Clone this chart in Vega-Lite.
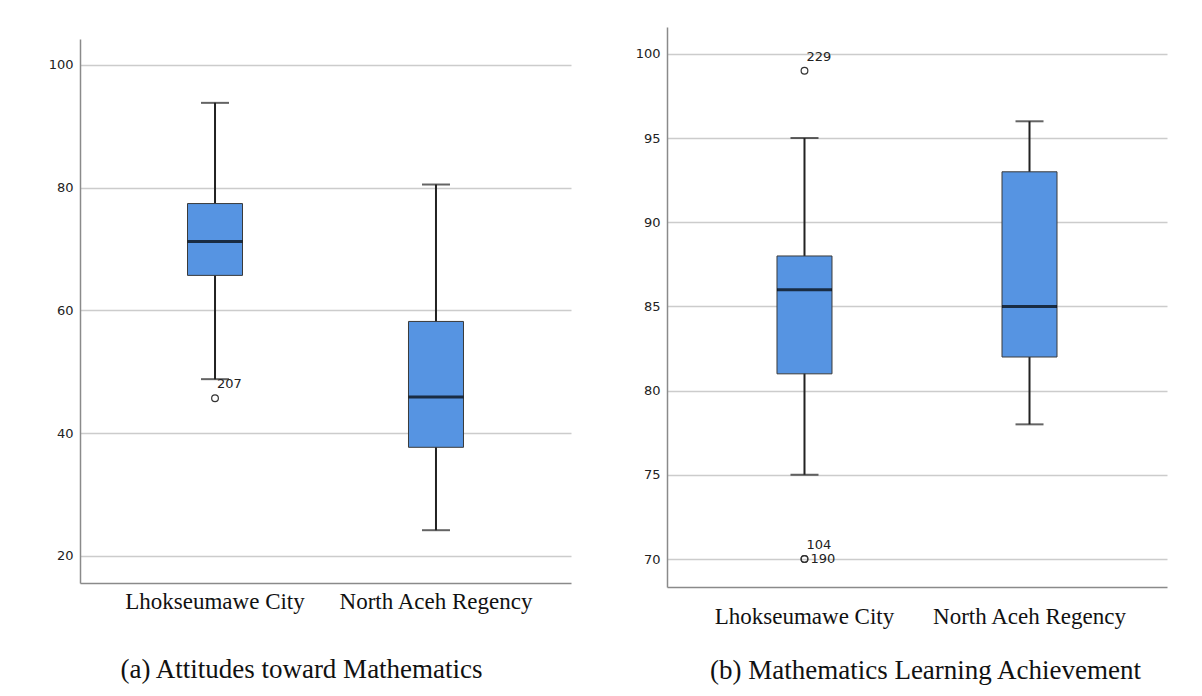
{
  "$schema": "https://vega.github.io/schema/vega-lite/v6.json",
  "background": "white",
  "padding": {"left": 48, "top": 21, "right": 5, "bottom": 5},
  "spacing": 64,
  "datasets": {
    "att": [
      {"area": "Lhokseumawe City", "lower": 48.8, "q1": 65.7, "median": 71.2, "q3": 77.4, "upper": 93.8},
      {"area": "North Aceh Regency", "lower": 24.2, "q1": 37.7, "median": 45.9, "q3": 58.2, "upper": 80.5}
    ],
    "att_out": [
      {"area": "Lhokseumawe City", "value": 45.7, "case": "207", "order": 1}
    ],
    "ach": [
      {"area": "Lhokseumawe City", "lower": 75, "q1": 81, "median": 86, "q3": 88, "upper": 95},
      {"area": "North Aceh Regency", "lower": 78, "q1": 82, "median": 85, "q3": 93, "upper": 96}
    ],
    "ach_out": [
      {"area": "Lhokseumawe City", "value": 99, "case": "229", "order": 1},
      {"area": "Lhokseumawe City", "value": 70, "case": "104", "order": 1},
      {"area": "Lhokseumawe City", "value": 70, "case": "190", "order": 2}
    ],
    "spacer": [{}]
  },
  "config": {
    "view": {"stroke": null},
    "axisY": {
      "grid": true, "gridColor": "#cccccc", "gridWidth": 1.5,
      "domainColor": "#8a8a8a", "domainWidth": 1.5,
      "ticks": false, "labelFont": "DejaVu Sans", "labelFontSize": 13,
      "labelColor": "#222", "labelPadding": 7
    },
    "axisX": {
      "grid": false, "ticks": false, "domainColor": "#8a8a8a", "domainWidth": 1.5,
      "labelAngle": 0, "labelFont": "Liberation Serif", "labelFontSize": 23, "labelLimit": 0,
      "labelColor": "#111", "titleFont": "Liberation Serif", "titleFontSize": 27, "titleLimit": 0,
      "titleFontWeight": "normal", "titleColor": "#111", "titleBaseline": "middle", "titleAlign": "center"
    }
  },
  "hconcat": [
    {
      "spacing": 6,
      "vconcat": [
        {
          "width": 491,
          "height": 1,
          "data": {"name": "spacer"},
          "mark": {"type": "text", "text": ""},
          "encoding": {}
        },
        {
          "width": 491,
          "height": 544,
          "encoding": {
            "x": {
              "field": "area", "type": "nominal", "sort": null,
              "scale": {"paddingInner": 0.2, "paddingOuter": 0.211},
              "axis": {"title": "(a) Attitudes toward Mathematics", "labelPadding": 7, "titleX": 221, "titleY": 86}
            }
          },
          "layer": [
            {
              "data": {"name": "att"},
              "mark": {"type": "rule", "color": "#222", "strokeWidth": 2},
              "encoding": {
                "y": {"field": "lower", "type": "quantitative", "scale": {"domain": [15.6, 104.2], "nice": false, "zero": false}, "axis": {"values": [20, 40, 60, 80, 100], "title": null}},
                "y2": {"field": "upper"}
              }
            },
            {
              "data": {"name": "att"},
              "mark": {"type": "tick", "color": "#222", "size": 28, "thickness": 2},
              "encoding": {
                "y": {"field": "lower", "type": "quantitative", "scale": {"domain": [15.6, 104.2], "nice": false, "zero": false}, "axis": {"values": [20, 40, 60, 80, 100], "title": null}}
              }
            },
            {
              "data": {"name": "att"},
              "mark": {"type": "tick", "color": "#222", "size": 28, "thickness": 2},
              "encoding": {
                "y": {"field": "upper", "type": "quantitative", "scale": {"domain": [15.6, 104.2], "nice": false, "zero": false}, "axis": {"values": [20, 40, 60, 80, 100], "title": null}}
              }
            },
            {
              "data": {"name": "att"},
              "mark": {"type": "bar", "size": 55, "fill": "#5694E2", "stroke": "#3a3a3a", "strokeWidth": 1},
              "encoding": {
                "y": {"field": "q1", "type": "quantitative", "scale": {"domain": [15.6, 104.2], "nice": false, "zero": false}, "axis": {"values": [20, 40, 60, 80, 100], "title": null}},
                "y2": {"field": "q3"}
              }
            },
            {
              "data": {"name": "att"},
              "mark": {"type": "tick", "color": "#000", "size": 55, "thickness": 3},
              "encoding": {
                "y": {"field": "median", "type": "quantitative", "scale": {"domain": [15.6, 104.2], "nice": false, "zero": false}, "axis": {"values": [20, 40, 60, 80, 100], "title": null}}
              }
            },
            {
              "data": {"name": "att_out"},
              "mark": {"type": "point", "shape": "circle", "filled": false, "size": 45, "color": "#333", "strokeWidth": 1.2, "opacity": 1},
              "encoding": {
                "y": {"field": "value", "type": "quantitative", "scale": {"domain": [15.6, 104.2], "nice": false, "zero": false}, "axis": {"values": [20, 40, 60, 80, 100], "title": null}}
              }
            },
            {
              "data": {"name": "att_out"},
              "transform": [{"filter": "datum.order == 1"}],
              "mark": {"type": "text", "align": "left", "baseline": "middle", "dx": 2, "dy": -14, "font": "DejaVu Sans", "fontSize": 13, "color": "#222"},
              "encoding": {
                "y": {"field": "value", "type": "quantitative", "scale": {"domain": [15.6, 104.2], "nice": false, "zero": false}, "axis": {"values": [20, 40, 60, 80, 100], "title": null}},
                "text": {"field": "case"}
              }
            }
          ]
        }
      ]
    },
    {
      "width": 500,
      "height": 560,
      "encoding": {
        "x": {
          "field": "area", "type": "nominal", "sort": null,
          "scale": {"paddingInner": 0.2, "paddingOuter": 0.211},
          "axis": {"title": "(b) Mathematics Learning Achievement", "labelPadding": 18, "titleX": 258, "titleY": 83}
        }
      },
      "layer": [
        {
          "data": {"name": "ach"},
          "mark": {"type": "rule", "color": "#222", "strokeWidth": 2},
          "encoding": {
            "y": {"field": "lower", "type": "quantitative", "scale": {"domain": [68.34, 101.6], "nice": false, "zero": false}, "axis": {"values": [70, 75, 80, 85, 90, 95, 100], "title": null}},
            "y2": {"field": "upper"}
          }
        },
        {
          "data": {"name": "ach"},
          "mark": {"type": "tick", "color": "#222", "size": 28, "thickness": 2},
          "encoding": {
            "y": {"field": "lower", "type": "quantitative", "scale": {"domain": [68.34, 101.6], "nice": false, "zero": false}, "axis": {"values": [70, 75, 80, 85, 90, 95, 100], "title": null}}
          }
        },
        {
          "data": {"name": "ach"},
          "mark": {"type": "tick", "color": "#222", "size": 28, "thickness": 2},
          "encoding": {
            "y": {"field": "upper", "type": "quantitative", "scale": {"domain": [68.34, 101.6], "nice": false, "zero": false}, "axis": {"values": [70, 75, 80, 85, 90, 95, 100], "title": null}}
          }
        },
        {
          "data": {"name": "ach"},
          "mark": {"type": "bar", "size": 55, "fill": "#5694E2", "stroke": "#3a3a3a", "strokeWidth": 1},
          "encoding": {
            "y": {"field": "q1", "type": "quantitative", "scale": {"domain": [68.34, 101.6], "nice": false, "zero": false}, "axis": {"values": [70, 75, 80, 85, 90, 95, 100], "title": null}},
            "y2": {"field": "q3"}
          }
        },
        {
          "data": {"name": "ach"},
          "mark": {"type": "tick", "color": "#000", "size": 55, "thickness": 3},
          "encoding": {
            "y": {"field": "median", "type": "quantitative", "scale": {"domain": [68.34, 101.6], "nice": false, "zero": false}, "axis": {"values": [70, 75, 80, 85, 90, 95, 100], "title": null}}
          }
        },
        {
          "data": {"name": "ach_out"},
          "mark": {"type": "point", "shape": "circle", "filled": false, "size": 45, "color": "#333", "strokeWidth": 1.2, "opacity": 1},
          "encoding": {
            "y": {"field": "value", "type": "quantitative", "scale": {"domain": [68.34, 101.6], "nice": false, "zero": false}, "axis": {"values": [70, 75, 80, 85, 90, 95, 100], "title": null}}
          }
        },
        {
          "data": {"name": "ach_out"},
          "transform": [{"filter": "datum.order == 1"}],
          "mark": {"type": "text", "align": "left", "baseline": "middle", "dx": 2, "dy": -14, "font": "DejaVu Sans", "fontSize": 13, "color": "#222"},
          "encoding": {
            "y": {"field": "value", "type": "quantitative", "scale": {"domain": [68.34, 101.6], "nice": false, "zero": false}, "axis": {"values": [70, 75, 80, 85, 90, 95, 100], "title": null}},
            "text": {"field": "case"}
          }
        },
        {
          "data": {"name": "ach_out"},
          "transform": [{"filter": "datum.order == 2"}],
          "mark": {"type": "text", "align": "left", "baseline": "middle", "dx": 6, "dy": 0, "font": "DejaVu Sans", "fontSize": 13, "color": "#222"},
          "encoding": {
            "y": {"field": "value", "type": "quantitative", "scale": {"domain": [68.34, 101.6], "nice": false, "zero": false}, "axis": {"values": [70, 75, 80, 85, 90, 95, 100], "title": null}},
            "text": {"field": "case"}
          }
        }
      ]
    }
  ]
}
